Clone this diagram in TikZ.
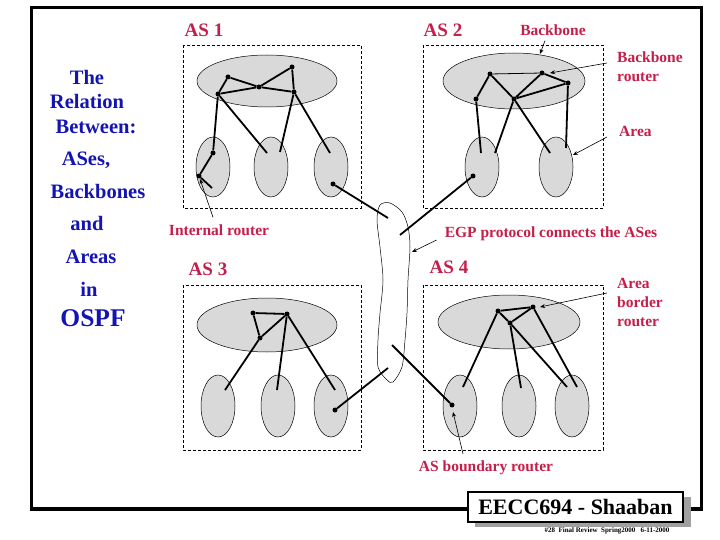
\documentclass[tikz,border=0pt]{standalone}
\usepackage{fontspec}
\setmainfont{Liberation Serif}
\usetikzlibrary{arrows.meta}
\definecolor{labelred}{HTML}{C41E4A}
\definecolor{navyblue}{HTML}{1414B4}
\definecolor{areagray}{HTML}{D9D9D9}
\definecolor{shadowgray}{HTML}{A0A0A0}
\tikzset{every node/.append style={font=\bfseries}}
\tikzset{
  router/.style={circle,fill=black,inner sep=0pt,minimum size=5pt},
  link/.style={line width=1.8pt},
  thinlink/.style={line width=0.8pt},
  asbox/.style={line width=0.6pt,dash pattern=on 3pt off 2pt},
  zone/.style={fill=areagray,draw=black,line width=0.5pt},
  tag/.style={text=labelred,font=\bfseries\fontsize{15.5}{19}\selectfont,align=left,inner sep=0pt},
  astag/.style={text=labelred,font=\bfseries\fontsize{19}{20}\selectfont,inner sep=0pt},
  pointer/.style={-{Stealth[length=5pt,width=4pt]},line width=0.6pt},
  sideline/.style={text=navyblue,font=\bfseries\fontsize{20.5}{22}\selectfont,inner sep=0pt}
}

\begin{document}
\begin{tikzpicture}[x=1pt,y=-1pt]
  \useasboundingbox (0,0) rectangle (720,540);
  \draw[line width=3.5pt] (468,509) -- (31.5,509) -- (31.5,7.5) -- (701.5,7.5)
    -- (701.5,509) -- (690,509);

  \foreach \name/\txt/\px/\py in {s1/The/87/77, s2/Relation/87/101, s3/Between:/96/127,
      s4/{ASes,}/86/160, s5/Backbones/98/191, s6/and/87/223, s7/Areas/91/257, s8/in/89/289}
    \node[sideline] (\name) at (\px,\py) {\txt};
  \node[sideline,font=\bfseries\fontsize{25.5}{26}\selectfont] (s9) at (93,318) {OSPF};

  \draw[asbox] (183,45) rectangle (361,208);
  \draw[asbox] (423,45) rectangle (603,208);
  \draw[asbox] (183,285) rectangle (361,450);
  \draw[asbox] (423,285) rectangle (603,450);

  \draw[zone] (267,81) ellipse[x radius=70,y radius=26];
  \draw[zone] (514,81) ellipse[x radius=71,y radius=28];
  \draw[zone] (267,325) ellipse[x radius=70,y radius=27];
  \draw[zone] (509,322) ellipse[x radius=71,y radius=27];
  \foreach \cx in {213,271,331}
    \draw[zone] (\cx,167) ellipse[x radius=17,y radius=30];
  \foreach \cx in {482,556}
    \draw[zone] (\cx,167) ellipse[x radius=17,y radius=30];
  \foreach \cx in {218,278,331,460,519,572}
    \draw[zone] (\cx,406) ellipse[x radius=17,y radius=31];

  \draw[line width=0.5pt] plot[smooth cycle] coordinates {(380,205) (390,203) (402,212)
    (408,227) (410,247) (408,280) (407,313) (405,340) (402,367) (393,382) (387,380)
    (378,367) (378,340) (380,313) (383,280) (380,247) (377,220)};

  \node[astag] (as1) at (204,30) {AS 1};
  \node[astag] (as2) at (443,30) {AS 2};
  \node[astag] (as3) at (208,269) {AS 3};
  \node[astag] (as4) at (449,267) {AS 4};

  % AS 1
  \node[router] (r1a) at (228,77) {};
  \node[router] (r1b) at (292,67) {};
  \node[router] (r1c) at (259,87) {};
  \node[router] (r1d) at (218,94) {};
  \node[router] (r1e) at (294,92) {};
  \node[router] (r1f) at (213,153) {};
  \node[router] (r1g) at (199,176) {};
  \node[router] (r1h) at (333,184) {};
  \coordinate (e1a) at (212,188);
  \coordinate (e1b) at (267,153);
  \coordinate (e1c) at (280,152);
  \coordinate (e1d) at (330,153);
  \draw[link] (r1d) -- (r1a) -- (r1c) -- (r1b) -- (r1e) -- (r1c) -- (r1d);
  \draw[link] (r1d) -- (r1f) -- (r1g) -- (e1a);
  \draw[link] (r1d) -- (e1b);
  \draw[link] (r1e) -- (e1c);
  \draw[link] (r1e) -- (e1d);

  % AS 2
  \node[router] (r2a) at (490,74) {};
  \node[router] (r2b) at (542,73) {};
  \node[router] (r2c) at (568,83) {};
  \node[router] (r2d) at (476,99) {};
  \node[router] (r2e) at (514,99) {};
  \node[router] (r2f) at (473,176) {};
  \coordinate (e2a) at (481,153);
  \coordinate (e2b) at (495,153);
  \coordinate (e2c) at (550,153);
  \coordinate (e2d) at (566,148);
  \draw[link] (r2d) -- (r2a) -- (r2e) -- (r2b) -- (r2c) -- (r2e);
  \draw[thinlink] (r2a) -- (r2b);
  \draw[link] (r2d) -- (e2a);
  \draw[link] (r2e) -- (e2b);
  \draw[link] (r2e) -- (e2c);
  \draw[link] (r2c) -- (e2d);

  % AS 3
  \node[router] (r3a) at (253,313) {};
  \node[router] (r3b) at (287,314) {};
  \node[router] (r3c) at (260,338) {};
  \node[router] (r3d) at (335,410) {};
  \coordinate (e3a) at (225,390);
  \coordinate (e3b) at (277,390);
  \coordinate (e3c) at (335,390);
  \draw[link] (r3a) -- (r3b) -- (r3c) -- (r3a);
  \draw[link] (r3c) -- (e3a);
  \draw[link] (r3b) -- (e3b);
  \draw[link] (r3b) -- (e3c);

  % AS 4
  \node[router] (r4a) at (498,311) {};
  \node[router] (r4b) at (533,307) {};
  \node[router] (r4c) at (510,323) {};
  \node[router] (r4d) at (452,405) {};
  \coordinate (e4a) at (463,387);
  \coordinate (e4b) at (521,388);
  \coordinate (e4c) at (567,387);
  \coordinate (e4d) at (577,387);
  \draw[link] (r4a) -- (r4b) -- (r4c) -- (r4a);
  \draw[link] (r4a) -- (e4a);
  \draw[link] (r4c) -- (e4b);
  \draw[link] (r4c) -- (e4c);
  \draw[link] (r4b) -- (e4d);

  % EGP links
  \coordinate (g1) at (388,218);
  \coordinate (g2) at (400,235);
  \coordinate (g3) at (388,368);
  \coordinate (g4) at (392,345);
  \draw[link] (r1h) -- (g1);
  \draw[link] (r2f) -- (g2);
  \draw[link] (r3d) -- (g3);
  \draw[link] (g4) -- (r4d);

  \node[tag] (bbone) at (553,30) {Backbone};
  \node[tag,anchor=west] (bbrouter) at (617,67) {Backbone\\router};
  \node[tag,anchor=west] (arealbl) at (619,131) {Area};
  \node[tag] (internal) at (219,230) {Internal router};
  \node[tag] (egp) at (551,234) {EGP protocol connects the ASes};
  \node[tag,anchor=west] (abr) at (617,302) {Area\\border\\router};
  \node[tag] (asbr) at (486,468) {AS boundary router};

  \coordinate (p1) at (540,54);
  \coordinate (p2) at (550,73);
  \coordinate (p3) at (573,155);
  \coordinate (p4) at (200,179);
  \coordinate (p5) at (412,252);
  \coordinate (p6) at (540,307);
  \coordinate (p7) at (453,412);
  \draw[pointer] (bbone.south) ++(-8,5) -- (p1);
  \draw[pointer] (bbrouter.west) ++(-10,-4) -- (p2);
  \draw[pointer] (arealbl.west) ++(-12,6) -- (p3);
  \draw[pointer] (internal.north) ++(-6,-7) -- (p4);
  \draw[pointer] (egp.west) ++(-8,6) -- (p5);
  \draw[pointer] (abr.west) ++(-10,-9) -- (p6);
  \draw[pointer] (asbr.north) ++(-23,-7) -- (p7);

  \fill[shadowgray] (475,497) rectangle (691,527);
  \node[draw,fill=white,line width=1.5pt,minimum width=215pt,minimum height=30pt,
    inner sep=0pt,font=\bfseries\fontsize{22}{24}\selectfont] (title) at (575.5,507) {EECC694 - Shaaban};
  \node[font=\bfseries\fontsize{7}{8}\selectfont,inner sep=0pt] (footer) at (607,531)
    {\#28~~Final Review~~Spring2000~~~6-11-2000};
\end{tikzpicture}
\end{document}
